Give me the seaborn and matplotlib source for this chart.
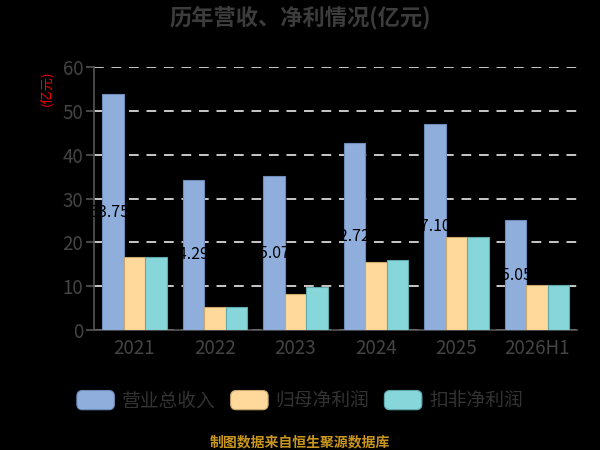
import pandas as pd
import matplotlib
matplotlib.use('Agg')
import matplotlib.pyplot as plt
import seaborn as sns
from matplotlib.patches import FancyBboxPatch
from matplotlib.legend_handler import HandlerPatch

# data (亿元)
years = ['2021', '2022', '2023', '2024', '2025', '2026H1']
revenue = [53.75, 34.29, 35.07, 42.72, 47.10, 25.05]
net_profit = [16.6, 5.3, 8.2, 15.6, 21.2, 10.3]
net_profit_deducted = [16.6, 5.2, 9.7, 15.9, 21.2, 10.3]
series_names = ['营业总收入', '归母净利润', '扣非净利润']
colors = ['#8FAEDB', '#FFD99B', '#87D6DA']
edge_colors = ['#6E8DBB', '#C9A870', '#5FAAAE']

df = pd.DataFrame({
    'year': years * 3,
    'series': [s for s in series_names for _ in years],
    'value': revenue + net_profit + net_profit_deducted,
})

sns.set_style('white')
plt.rcParams['font.family'] = ['Noto Sans CJK SC', 'DejaVu Sans']
plt.rcParams['axes.unicode_minus'] = False

fig = plt.figure(figsize=(6, 4.5), dpi=100, facecolor='black')
ax = fig.add_axes([0.157, 0.2667, 0.805, 0.5843])
ax.set_facecolor('black')

sns.barplot(data=df, x='year', y='value', hue='series', hue_order=series_names,
            palette=colors, order=years, ax=ax, width=0.8, legend=False,
            saturation=1, zorder=3)

# darker outline per series
for cont, ec in zip(ax.containers, edge_colors):
    for bar in cont:
        bar.set_edgecolor(ec)
        bar.set_linewidth(0.8)

# revenue labels at half height of the blue bar (black text, only shows on the bar)
for bar, v in zip(ax.containers[0], revenue):
    ax.text(bar.get_x() + bar.get_width() / 2 - 0.045, v / 2, f'{v:.2f}',
            ha='center', va='center', fontsize=11.5, color='black', zorder=5)

ax.set_ylim(0, 60)
ax.set_xlim(-0.5, len(years) - 0.5)
ax.set_yticks(range(0, 61, 10))
ax.yaxis.grid(True, linestyle=(0, (5, 4)), color='#c8c8c8', linewidth=1.4, zorder=0)
ax.xaxis.grid(False)

# ticks on category boundaries, labels at centres
ax.set_xticks([i - 0.5 for i in range(len(years) + 1)])
ax.set_xticklabels([])
ax.set_xticks(range(len(years)), minor=True)
ax.set_xticklabels(years, minor=True)
ax.tick_params(axis='x', which='major', length=6, width=1.2, color='#555555', direction='out')
ax.tick_params(axis='x', which='minor', length=0, labelsize=13.5, labelcolor='#444444', pad=6)
ax.tick_params(axis='y', length=6, width=1.2, color='#555555', labelsize=13.5,
               labelcolor='#444444', pad=2, left=True)

ax.set_xlabel('')
ax.set_ylabel('')
for side in ['top', 'right']:
    ax.spines[side].set_visible(False)
for side in ['left', 'bottom']:
    ax.spines[side].set_color('#555555')
    ax.spines[side].set_linewidth(1.2)

fig.text(0.5, 0.96, '历年营收、净利情况(亿元)', ha='center', va='center',
         fontsize=16, fontweight='bold', color='#3c3c3c')
fig.text(0.078, 0.805, '(亿元)', ha='center', va='center', rotation=90,
         fontsize=9.5, color='red')


class RoundHandler(HandlerPatch):
    def create_artists(self, legend, orig_handle, xdescent, ydescent,
                       width, height, fontsize, trans):
        p = FancyBboxPatch((-xdescent, -ydescent), width, height,
                           boxstyle='round,pad=0,rounding_size=4',
                           fc=orig_handle.get_facecolor(),
                           ec=orig_handle.get_edgecolor(), lw=0.8,
                           transform=trans)
        return [p]


handles = [plt.Rectangle((0, 0), 1, 1, fc=c, ec=e) for c, e in zip(colors, edge_colors)]
fig.legend(handles, series_names, loc='center', bbox_to_anchor=(0.5, 0.109), ncol=3,
           frameon=False, fontsize=13.5, labelcolor='#333333',
           handlelength=2.0, handleheight=1.2, handletextpad=0.4,
           columnspacing=0.8,
           handler_map={plt.Rectangle: RoundHandler()})

fig.text(0.5, 0.018, '制图数据来自恒生聚源数据库', ha='center', va='center',
         fontsize=10, fontweight='bold', color='#C8961E')

fig.savefig('out.png', dpi=100, facecolor='black')
